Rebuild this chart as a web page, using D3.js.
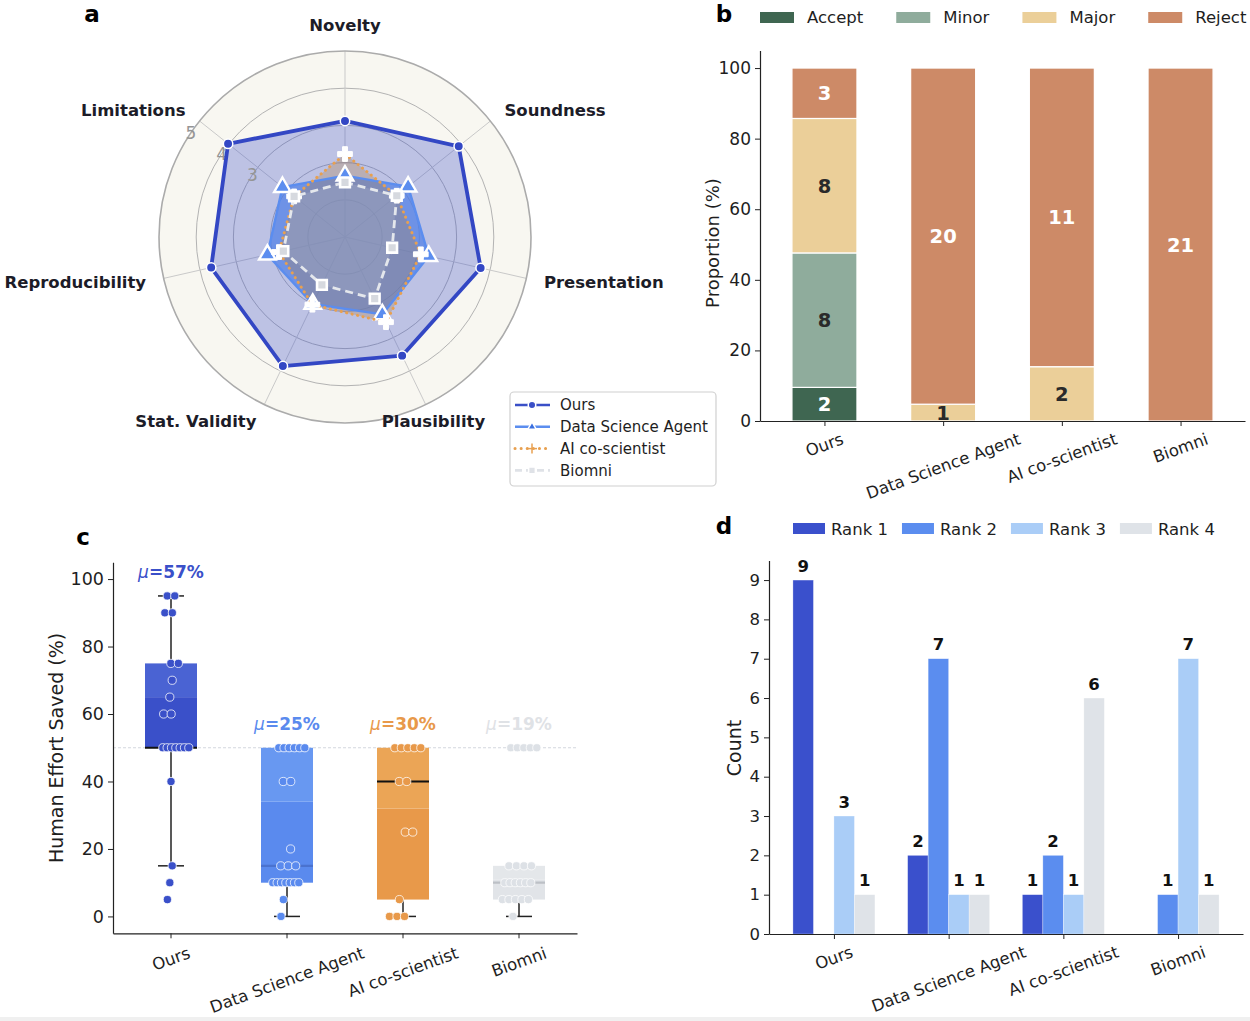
<!DOCTYPE html>
<html><head><meta charset="utf-8">
<script src="https://cdn.jsdelivr.net/npm/d3@7"></script>
<style>
body{margin:0;background:#fff;}
svg{display:block;font-family:"DejaVu Sans",sans-serif;}
</style>
</head><body>
<svg id="chart" width="1250" height="1021"></svg>
<script>
// ---------------- DATA ----------------
const radarAxes = ["Novelty","Soundness","Presentation","Plausibility","Stat. Validity","Reproducibility","Limitations"];
const radarTickLabels = [3,4,5];
const radarRings = [1,2,3,4];
const radarOurs   = [3.12, 3.91, 3.74, 3.54, 3.85, 3.69, 4.02];
const radarDSA    = [1.65, 2.17, 2.31, 2.31, 2.00, 2.14, 2.15];
const radarAI     = [2.23, 1.78, 2.09, 2.54, 2.02, 1.82, 1.75];
const radarBiomni = [1.47, 1.78, 1.30, 1.84, 1.43, 1.70, 1.75];
const seriesNames = ["Ours","Data Science Agent","AI co-scientist","Biomni"];

const decisionCats = ["Ours","Data Science Agent","AI co-scientist","Biomni"];
const decisionKeys = ["Accept","Minor","Major","Reject"];
const acceptCounts = [2,0,0,0];
const minorCounts  = [8,0,0,0];
const majorCounts  = [8,1,2,0];
const rejectCounts = [3,20,11,21];
const proportionTicks = [0,20,40,60,80,100];

const effortCats = ["Ours","Data Science Agent","AI co-scientist","Biomni"];
const effortOurs   = [95,95,90,90,75,75,70,65,60,60,50,50,50,50,50,50,50,40,15,10,5];
const effortDSA    = [50,50,50,50,50,50,40,40,20,15,15,15,10,10,10,10,10,10,10,5,0];
const effortAI     = [50,50,50,50,50,40,40,25,25,5,0,0,0];
const effortBiomni = [50,50,50,50,50,15,15,15,15,10,10,10,10,10,10,5,5,5,5,5,0];
const effortTicks = [0,20,40,60,80,100];
const effortRef = 50;

const rankCats = ["Ours","Data Science Agent","AI co-scientist","Biomni"];
const rankKeys = ["Rank 1","Rank 2","Rank 3","Rank 4"];
const rank1 = [9,2,1,0];
const rank2 = [0,7,2,1];
const rank3 = [3,1,1,7];
const rank4 = [1,1,6,1];
const countTicks = [0,1,2,3,4,5,6,7,8,9];

// ---------------- SETUP ----------------
const svg = d3.select("#chart");
svg.append("rect").attr("width",1250).attr("height",1021).attr("fill","#fff");
svg.append("rect").attr("x",0).attr("y",1017).attr("width",1250).attr("height",4).attr("fill","#f0f0f0");
const TXT = "#1e1e1e";

function panelLetter(l,x,y){
  svg.append("text").attr("x",x).attr("y",y).attr("dy","0.35em").attr("text-anchor","middle")
    .attr("font-size",23).attr("font-weight","bold").attr("fill","#000").text(l);
}
panelLetter("a",92,14); panelLetter("b",724,14); panelLetter("c",83,537); panelLetter("d",724,526);

function rotLabel(g,x,yTop,text,size){
  const t = g.append("text").attr("font-size",size).attr("text-anchor","middle").attr("dy","0.35em")
    .attr("fill",TXT).text(text);
  const L = t.node().getComputedTextLength();
  const a = 20*Math.PI/180;
  const H = L*Math.sin(a) + size*1.05*Math.cos(a);
  t.attr("transform",`translate(${x},${yTop+H/2}) rotate(-20)`);
}
function styleAxis(g,size){
  g.selectAll(".domain").attr("stroke","#222").attr("stroke-width",1.2);
  g.selectAll(".tick line").attr("stroke","#222").attr("stroke-width",1);
  g.selectAll(".tick text").attr("font-size",size).attr("fill",TXT).attr("font-family","DejaVu Sans");
}

// ---------------- PANEL A: RADAR ----------------
(function(){
  const g = svg.append("g");
  const cx=345, cy=237, R=186;
  const r = d3.scaleLinear().domain([0,5]).range([0,R]);
  const ang = d3.scaleLinear().domain([0,radarAxes.length]).range([0,2*Math.PI]);
  const pt = (i,v)=>[cx + r(v)*Math.sin(ang(i)), cy - r(v)*Math.cos(ang(i))];

  g.append("circle").attr("cx",cx).attr("cy",cy).attr("r",r(5)).attr("fill","#f8f7f1");
  radarRings.forEach(v=>g.append("circle").attr("cx",cx).attr("cy",cy).attr("r",r(v))
    .attr("fill","none").attr("stroke","#b3b3b3").attr("stroke-width",1));
  radarAxes.forEach((a,i)=>{
    const [x,y]=pt(i,5);
    g.append("line").attr("x1",cx).attr("y1",cy).attr("x2",x).attr("y2",y)
      .attr("stroke","#c9c9c9").attr("stroke-width",1);
  });
  g.append("circle").attr("cx",cx).attr("cy",cy).attr("r",r(5)).attr("fill","none")
    .attr("stroke","#ababab").attr("stroke-width",1.6);

  const series = [
    {vals:radarOurs, color:"#3347c4", fill:"#3a4fc7", fo:0.31, w:3.8, dash:null},
    {vals:radarDSA, color:"#5b8def", fill:"#4f7fe6", fo:0.72, w:2.4, dash:null},
    {vals:radarAI, color:"#e8a050", fill:"#b07a3a", fo:0.28, w:3, dash:"0.1,5.5"},
    {vals:radarBiomni, color:"#e4e7ec", fill:"#c8ced8", fo:0.18, w:2.8, dash:"8,5"}
  ];
  const line = d3.line().curve(d3.curveLinearClosed);
  series.forEach(s=>{
    g.append("path").attr("d",line(s.vals.map((v,i)=>pt(i,v))))
      .attr("fill",s.fill).attr("fill-opacity",s.fo).attr("stroke","none");
  });
  const la = -56*Math.PI/180;
  radarTickLabels.forEach(v=>{
    g.append("text").attr("x",cx + r(v)*Math.sin(la)).attr("y",cy - r(v)*Math.cos(la))
      .attr("dy","0.35em").attr("text-anchor","middle").attr("font-size",17).attr("fill","#959595").text(v);
  });
  const markers = [
    {type:d3.symbolCircle,size:70,fill:"#3347c4",stroke:"#fff",sw:1.5},
    {type:d3.symbolTriangle,size:120,fill:"#5b8def",stroke:"#fff",sw:2.4},
    {type:d3.symbolCross,size:120,fill:"#fff",stroke:"#fff",sw:1},
    {type:d3.symbolSquare,size:95,fill:"#d6d9df",stroke:"#fff",sw:2.6}
  ];
  series.forEach((s,k)=>{
    const p = g.append("path").attr("d",line(s.vals.map((v,i)=>pt(i,v))))
      .attr("fill","none").attr("stroke",s.color).attr("stroke-width",s.w).attr("stroke-linejoin","round");
    if(s.dash){ p.attr("stroke-dasharray",s.dash).attr("stroke-linecap", k===2?"round":"butt"); }
    const m = markers[k];
    s.vals.forEach((v,i)=>{
      const [x,y]=pt(i,v);
      g.append("path").attr("d",d3.symbol().type(m.type).size(m.size)())
        .attr("transform",`translate(${x},${y})`).attr("fill",m.fill).attr("stroke",m.stroke).attr("stroke-width",m.sw);
    });
  });
  const anchors = ["middle","start","start","middle","end","end","end"];
  radarAxes.forEach((a,i)=>{
    const rr = i===0 ? 212 : 204;
    const x = cx + rr*Math.sin(ang(i)), y = cy - rr*Math.cos(ang(i));
    g.append("text").attr("x",x).attr("y",y).attr("dy","0.35em").attr("text-anchor",anchors[i])
      .attr("font-size",16.5).attr("font-weight","bold").attr("fill","#1c1c28").text(a);
  });
  const lg = g.append("g");
  lg.append("rect").attr("x",510).attr("y",392).attr("width",206).attr("height",94).attr("rx",4)
    .attr("fill","#fff").attr("stroke","#d0d0d0").attr("stroke-width",1.2);
  const legSty = [
    {color:"#3a4fc7",dash:null,w:2.6,m:d3.symbolCircle,ms:45,mf:"#3a4fc7"},
    {color:"#5b8def",dash:null,w:2.6,m:d3.symbolTriangle,ms:30,mf:"#3a6fe0"},
    {color:"#e8a050",dash:"0.1,6",w:3,m:d3.symbolCross,ms:40,mf:"#e8a050"},
    {color:"#dfe2e7",dash:"7,4",w:2.6,m:d3.symbolSquare,ms:45,mf:"#dfe2e7"}
  ];
  seriesNames.forEach((n,k)=>{
    const y = 405 + k*21.8, s = legSty[k];
    const l = lg.append("line").attr("x1",515).attr("x2",550).attr("y1",y).attr("y2",y)
      .attr("stroke",s.color).attr("stroke-width",s.w);
    if(s.dash) l.attr("stroke-dasharray",s.dash).attr("stroke-linecap",k===2?"round":"butt");
    if(k===2){
      lg.append("line").attr("x1",527).attr("x2",537).attr("y1",y).attr("y2",y).attr("stroke",s.mf).attr("stroke-width",1.5);
      lg.append("line").attr("x1",532).attr("x2",532).attr("y1",y-5).attr("y2",y+5).attr("stroke",s.mf).attr("stroke-width",1.5);
    } else {
      lg.append("path").attr("d",d3.symbol().type(s.m).size(s.ms)()).attr("transform",`translate(532,${y})`)
        .attr("fill",s.mf).attr("stroke","#fff").attr("stroke-width",1.5);
    }
    lg.append("text").attr("x",560).attr("y",y).attr("dy","0.35em").attr("font-size",15).attr("fill",TXT).text(n);
  });
})();

// ---------------- PANEL B: STACKED ----------------
(function(){
  const g = svg.append("g");
  const x = d3.scalePoint().domain(decisionCats).range([760,1245]).padding(0.543);
  const y = d3.scaleLinear().domain([0,105]).range([421,50.4]);
  const colors = {Accept:"#3f6651",Minor:"#8fac9c",Major:"#ebcf99",Reject:"#cd8a67"};
  const labCol = {Accept:"#fff",Minor:"#2a2a2a",Major:"#2a2a2a",Reject:"#fff"};
  const counts = [acceptCounts,minorCounts,majorCounts,rejectCounts];
  const table = decisionCats.map((c,i)=>{
    const tot = d3.sum(counts,a=>a[i]);
    const row = {cat:c};
    decisionKeys.forEach((k,j)=>{row[k]=counts[j][i]/tot*100; row[k+"_n"]=counts[j][i];});
    return row;
  });
  const stacked = d3.stack().keys(decisionKeys)(table);
  const bw = 65;
  stacked.forEach(layer=>{
    layer.forEach(d=>{
      if(d[1]-d[0]<=0) return;
      g.append("rect").attr("x",x(d.data.cat)-bw/2).attr("width",bw)
        .attr("y",y(d[1])).attr("height",y(d[0])-y(d[1]))
        .attr("fill",colors[layer.key]).attr("stroke","#fff").attr("stroke-width",1.2);
    });
  });
  stacked.forEach(layer=>{
    layer.forEach(d=>{
      const n = d.data[layer.key+"_n"];
      if(!n) return;
      g.append("text").attr("x",x(d.data.cat)).attr("y",y((d[0]+d[1])/2)).attr("dy","0.36em")
        .attr("text-anchor","middle").attr("font-size",19.5).attr("font-weight","bold")
        .attr("fill",labCol[layer.key]).text(n);
    });
  });
  const ya = g.append("g").attr("transform","translate(760,0)")
    .call(d3.axisLeft(y).tickValues(proportionTicks).tickSize(5).tickSizeOuter(0).tickPadding(4));
  styleAxis(ya,17);
  const xa = g.append("g").attr("transform","translate(0,421)")
    .call(d3.axisBottom(x).tickSize(5).tickSizeOuter(0));
  styleAxis(xa,16); xa.selectAll(".tick text").remove();
  decisionCats.forEach(c=>rotLabel(g,x(c),430,c,16.5));
  g.append("text").attr("transform","translate(713,243) rotate(-90)").attr("dy","0.35em")
    .attr("text-anchor","middle").attr("font-size",18).attr("fill",TXT).text("Proportion (%)");
  let lx = 760;
  decisionKeys.forEach(k=>{
    g.append("rect").attr("x",lx).attr("y",12).attr("width",34).attr("height",11).attr("fill",colors[k]);
    const t = g.append("text").attr("x",lx+47).attr("y",17.5).attr("dy","0.35em").attr("font-size",16.5)
      .attr("fill",TXT).text(k);
    lx += 47 + t.node().getComputedTextLength() + 33;
  });
})();

// ---------------- PANEL C: BOX ----------------
(function(){
  const g = svg.append("g");
  const x = d3.scaleBand().domain(effortCats).range([113,577]);
  const y = d3.scaleLinear().domain([-5,105]).range([933.3,562.2]);
  const data = [effortOurs,effortDSA,effortAI,effortBiomni];
  const sty = [
    {lo:"#3a50c9",hi:"#4a63d3",pt:"#3a50c9",med:"#111",mu:"#3a50c9"},
    {lo:"#5a8aee",hi:"#6898f1",pt:"#5a8aee",med:"#4a72cf",mu:"#5a8aee"},
    {lo:"#e8994a",hi:"#eba556",pt:"#e8994a",med:"#111",mu:"#e8994a"},
    {lo:"#e1e4e8",hi:"#e4e7ea",pt:"#dde1e6",med:"#bcc0c6",mu:"#dfe2e6"}
  ];
  g.append("line").attr("x1",113).attr("x2",577).attr("y1",y(effortRef)).attr("y2",y(effortRef))
    .attr("stroke","#d3d7de").attr("stroke-width",1).attr("stroke-dasharray","3,2");
  const bw = 52;
  data.forEach((vals,k)=>{
    const c = x(effortCats[k]) + x.bandwidth()/2;
    const s = vals.slice().sort(d3.ascending);
    const q1 = d3.quantile(s,0.25), med = d3.quantile(s,0.5), q3 = d3.quantile(s,0.75);
    const iqr = q3-q1;
    const wLo = d3.min(s.filter(v=>v>=q1-1.5*iqr));
    const wHi = d3.max(s.filter(v=>v<=q3+1.5*iqr));
    const st = sty[k];
    if(wLo<q1){
      g.append("line").attr("x1",c).attr("x2",c).attr("y1",y(wLo)).attr("y2",y(q1)).attr("stroke","#222").attr("stroke-width",1.5);
      g.append("line").attr("x1",c-13).attr("x2",c+13).attr("y1",y(wLo)).attr("y2",y(wLo)).attr("stroke","#222").attr("stroke-width",1.5);
    }
    if(wHi>q3){
      g.append("line").attr("x1",c).attr("x2",c).attr("y1",y(q3)).attr("y2",y(wHi)).attr("stroke","#222").attr("stroke-width",1.5);
      g.append("line").attr("x1",c-13).attr("x2",c+13).attr("y1",y(wHi)).attr("y2",y(wHi)).attr("stroke","#222").attr("stroke-width",1.5);
    }
    const split = q1 + 0.6*(q3-q1);
    g.append("rect").attr("x",c-bw/2).attr("width",bw).attr("y",y(split)).attr("height",y(q1)-y(split)).attr("fill",st.lo);
    g.append("rect").attr("x",c-bw/2).attr("width",bw).attr("y",y(q3)).attr("height",y(split)-y(q3)).attr("fill",st.hi);
    g.append("line").attr("x1",c-bw/2).attr("x2",c+bw/2).attr("y1",y(med)).attr("y2",y(med))
      .attr("stroke",st.med).attr("stroke-width",2.2);
    const groups = d3.group(vals, v=>v);
    groups.forEach((arr,v)=>{
      const n = arr.length;
      const sp = n>1 ? Math.min(7.5, 26/(n-1)) : 0;
      const shift = ((Math.round(v)*7)%11 - 5)*1.2;
      arr.forEach((_,j)=>{
        const px = c + shift + (j-(n-1)/2)*sp;
        g.append("circle").attr("cx",px).attr("cy",y(v)).attr("r",4.1)
          .attr("fill",st.pt).attr("stroke","#fff").attr("stroke-width",0.9).attr("stroke-opacity",0.85);
      });
    });
    const mu = Math.round(d3.mean(vals));
    const t = g.append("text").attr("x",c).attr("y",y(d3.max(vals))-23.5).attr("dy","0.35em")
      .attr("text-anchor","middle").attr("font-size",17).attr("fill",st.mu);
    t.append("tspan").attr("font-style","italic").text("μ");
    t.append("tspan").attr("font-weight","bold").text("="+mu+"%");
  });
  const ya = g.append("g").attr("transform","translate(113,0)")
    .call(d3.axisLeft(y).tickValues(effortTicks).tickSize(5).tickSizeOuter(0).tickPadding(4));
  styleAxis(ya,17.5);
  const xa = g.append("g").attr("transform","translate(0,933.3)")
    .call(d3.axisBottom(x).tickSize(5).tickSizeOuter(0));
  styleAxis(xa,16); xa.selectAll(".tick text").remove();
  effortCats.forEach(cn=>rotLabel(g,x(cn)+x.bandwidth()/2,944,cn,16.5));
  g.append("text").attr("transform","translate(56,748) rotate(-90)").attr("dy","0.35em")
    .attr("text-anchor","middle").attr("font-size",19).attr("fill",TXT).text("Human Effort Saved (%)");
})();

// ---------------- PANEL D: GROUPED ----------------
(function(){
  const g = svg.append("g");
  const x0 = d3.scalePoint().domain(rankCats).range([769,1243]).padding(0.566);
  const x1 = d3.scaleBand().domain(rankKeys).range([-41,41]);
  const y = d3.scaleLinear().domain([0,9.5]).range([934,560.4]);
  const colors = ["#3a50cc","#5b8def","#aacdf7","#dfe3e8"];
  const vals = [rank1,rank2,rank3,rank4];
  rankCats.forEach((c,i)=>{
    rankKeys.forEach((k,j)=>{
      const v = vals[j][i];
      if(!v) return;
      const bx = x0(c)+x1(k);
      g.append("rect").attr("x",bx).attr("width",x1.bandwidth()).attr("y",y(v)).attr("height",y(0)-y(v))
        .attr("fill",colors[j]).attr("stroke","#fff").attr("stroke-width",0.6).attr("stroke-opacity",0.5);
      g.append("text").attr("x",bx+x1.bandwidth()/2).attr("y",y(v)-14).attr("dy","0.35em")
        .attr("text-anchor","middle").attr("font-size",16.5).attr("font-weight","bold").attr("fill","#111").text(v);
    });
  });
  const ya = g.append("g").attr("transform","translate(769,0)")
    .call(d3.axisLeft(y).tickValues(countTicks).tickSize(5).tickSizeOuter(0).tickPadding(4));
  styleAxis(ya,16.5);
  const xa = g.append("g").attr("transform","translate(0,934)")
    .call(d3.axisBottom(x0).tickSize(5).tickSizeOuter(0));
  styleAxis(xa,16); xa.selectAll(".tick text").remove();
  rankCats.forEach(c=>rotLabel(g,x0(c),943,c,16.5));
  g.append("text").attr("transform","translate(734,748) rotate(-90)").attr("dy","0.35em")
    .attr("text-anchor","middle").attr("font-size",19).attr("fill",TXT).text("Count");
  let lx = 793;
  rankKeys.forEach((k,j)=>{
    g.append("rect").attr("x",lx).attr("y",523).attr("width",32).attr("height",11).attr("fill",colors[j]);
    const t = g.append("text").attr("x",lx+38).attr("y",529).attr("dy","0.35em").attr("font-size",16.5)
      .attr("fill",TXT).text(k);
    lx += 38 + t.node().getComputedTextLength() + 14;
  });
})();
</script>
</body></html>
